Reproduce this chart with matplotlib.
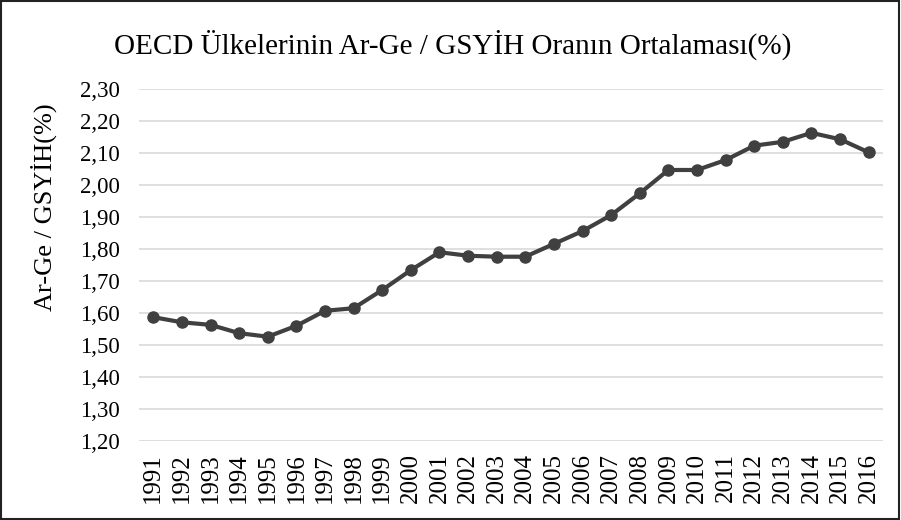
import matplotlib
matplotlib.use("Agg")
import matplotlib.pyplot as plt
from matplotlib.patches import Rectangle
from matplotlib.ticker import FuncFormatter

years = [str(y) for y in range(1991, 2017)]
values = [1.586, 1.570, 1.562, 1.536, 1.525, 1.559, 1.606, 1.614, 1.671, 1.733,
          1.789, 1.778, 1.775, 1.775, 1.815, 1.855, 1.905, 1.973, 2.046, 2.046,
          2.077, 2.122, 2.134, 2.162, 2.142, 2.101]
yticks = [1.20, 1.30, 1.40, 1.50, 1.60, 1.70, 1.80, 1.90, 2.00, 2.10, 2.20, 2.30]

title = "OECD Ülkelerinin Ar-Ge / GSYİH Oranın Ortalaması(%)"
ylabel = "Ar-Ge / GSYİH(%)"

plt.rcParams['font.family'] = ['Liberation Serif', 'DejaVu Serif']

fig = plt.figure(figsize=(9.01, 5.2), dpi=100)
ax = fig.add_axes([139/901, 1 - 440.7/520, (883 - 139)/901, (440.7 - 88.7)/520])

x = list(range(len(years)))
ax.plot(x, values, color='#404040', lw=3.0, marker='o', markersize=8,
        markerfacecolor='#404040', markeredgecolor='#404040', zorder=3)

ax.set_xlim(-0.5, len(years) - 0.5)
ax.set_ylim(1.20, 2.30)
ax.set_yticks(yticks)
ax.yaxis.set_major_formatter(FuncFormatter(lambda v, p: f"{v:.2f}".replace('.', ',')))
ax.set_xticks(x)
ax.set_xticklabels(years, rotation=90)
ax.grid(axis='y', color='#d9d9d9', lw=1.2)
ax.set_axisbelow(True)
for s in ax.spines.values():
    s.set_visible(False)
ax.tick_params(axis='both', length=0, labelsize=16.5, colors='black')
ax.tick_params(axis='y', pad=14)
ax.tick_params(axis='x', pad=9, labelsize=18)

fig.text(453/901, 1 - 45/520, title, ha='center', va='center', fontsize=21)
fig.text(44/901, 1 - 207/520, ylabel, ha='center', va='center', rotation=90, fontsize=19)

fig.patches.append(Rectangle((0.001, 0.002), 0.997, 0.996, transform=fig.transFigure,
                             fill=False, edgecolor='#222222', lw=1.5))

fig.savefig('out.png', dpi=100)
